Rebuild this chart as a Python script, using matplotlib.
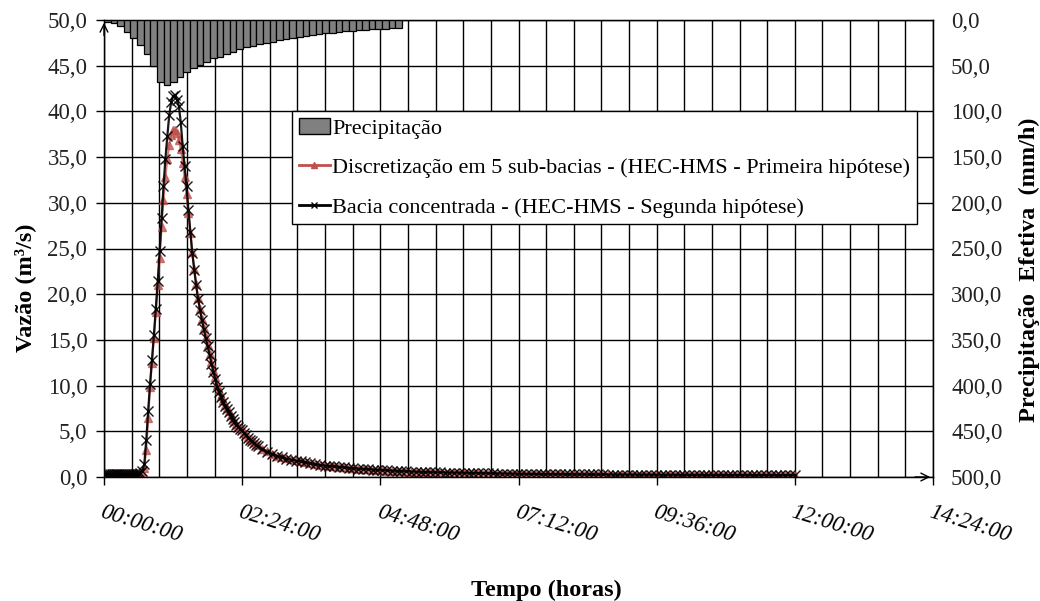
import numpy as np
import matplotlib
matplotlib.use("Agg")
import matplotlib.pyplot as plt
from matplotlib.ticker import MultipleLocator, FuncFormatter
from matplotlib.patches import Patch
from matplotlib.lines import Line2D

plt.rcParams["font.family"] = ["Liberation Serif", "DejaVu Serif"]

# hydrograph sampling: every 2 min up to 158 min, then every 5 min to 720 min (12:00)
t_fine = np.arange(0, 160, 2)
t_tail = np.arange(160, 721, 5)
tempo_min = np.concatenate([t_fine, t_tail])

# Bacia concentrada (HEC-HMS, segunda hipotese) - m3/s
q_concentrada_fine = [0.3] * 19 + [
    0.4, 0.7, 1.4, 4.0, 7.2, 10.2, 12.8, 15.5, 18.4, 21.4,
    24.7, 28.3, 31.8, 34.8, 37.3, 39.6, 41.0, 41.7, 41.8, 41.3,
    40.6, 38.8, 36.2, 34.0, 31.8, 29.2, 26.8, 24.5, 22.7, 21.0,
    19.5, 18.3, 17.2, 16.2, 15.2, 14.3, 13.4, 12.4, 11.5, 10.7,
    9.9, 9.3, 8.8, 8.2, 7.8, 7.4, 7.1, 6.7, 6.4, 6.0,
    5.7, 5.5, 5.3, 5.1, 4.8, 4.6, 4.3, 4.1, 3.9, 3.7, 3.55]
q_concentrada_tail = [
    3.4, 3.05, 2.75, 2.5, 2.3, 2.15, 2.0, 1.9, 1.8, 1.7,
    1.6, 1.5, 1.4, 1.3, 1.25, 1.2, 1.15, 1.1, 1.05, 1.0,
    0.95, 0.92, 0.88, 0.85, 0.82, 0.78, 0.75, 0.72, 0.70, 0.68,
    0.65, 0.62, 0.60, 0.58, 0.56, 0.55, 0.53, 0.52, 0.50, 0.49,
    0.48, 0.47, 0.46, 0.45, 0.44, 0.43, 0.42, 0.41, 0.40, 0.39,
    0.38, 0.37, 0.36, 0.36, 0.35, 0.35, 0.34, 0.34, 0.33, 0.33,
    0.32, 0.32, 0.31, 0.31, 0.30, 0.30, 0.30, 0.29, 0.29, 0.29,
    0.28, 0.28, 0.28, 0.27, 0.27, 0.27, 0.26, 0.26, 0.26, 0.26,
    0.25, 0.25, 0.25, 0.25, 0.24, 0.24, 0.24, 0.24, 0.23, 0.23,
    0.23, 0.23, 0.23, 0.22, 0.22, 0.22, 0.22, 0.22, 0.21, 0.21,
    0.21, 0.21, 0.21, 0.21, 0.20, 0.20, 0.20, 0.20, 0.20, 0.20,
    0.20, 0.20, 0.20]

# Discretizacao em 5 sub-bacias (HEC-HMS, primeira hipotese) - m3/s
q_subbacias_fine = [0.2] * 19 + [
    0.25, 0.5, 1.0, 3.0, 6.5, 9.8, 12.5, 15.2, 18.0, 21.0,
    24.0, 27.3, 30.3, 32.8, 34.8, 36.3, 37.4, 38.0, 38.0, 37.6,
    36.9, 35.9, 34.4, 32.8, 31.0, 28.9, 26.7, 24.6, 22.8, 21.1,
    19.6, 18.4, 17.3, 16.3, 15.3, 14.4, 13.5, 12.6, 11.7, 10.9,
    10.1, 9.5, 8.9, 8.4, 7.9, 7.5, 7.2, 6.8, 6.5, 6.1,
    5.8, 5.6, 5.4, 5.2, 4.9, 4.7, 4.4, 4.2, 4.0, 3.8, 3.6]
q_subbacias_tail = [
    3.45, 3.1, 2.8, 2.55, 2.35, 2.2, 2.05, 1.92, 1.82, 1.72,
    1.62, 1.52, 1.42, 1.32, 1.26, 1.2, 1.15, 1.1, 1.05, 1.0,
    0.95, 0.91, 0.87, 0.84, 0.80, 0.77, 0.74, 0.71, 0.68, 0.66,
    0.63, 0.60, 0.58, 0.56, 0.54, 0.52, 0.50, 0.49, 0.47, 0.46,
    0.45, 0.44, 0.43, 0.42, 0.41, 0.40, 0.39, 0.38, 0.37, 0.36,
    0.35, 0.34, 0.33, 0.33, 0.32, 0.32, 0.31, 0.31, 0.30, 0.30,
    0.29, 0.29, 0.28, 0.28, 0.27, 0.27, 0.27, 0.26, 0.26, 0.26,
    0.25, 0.25, 0.25, 0.24, 0.24, 0.24, 0.23, 0.23, 0.23, 0.23,
    0.22, 0.22, 0.22, 0.22, 0.21, 0.21, 0.21, 0.21, 0.20, 0.20,
    0.20, 0.20, 0.20, 0.19, 0.19, 0.19, 0.19, 0.19, 0.18, 0.18,
    0.18, 0.18, 0.18, 0.18, 0.17, 0.17, 0.17, 0.17, 0.17, 0.17,
    0.17, 0.17, 0.17]

q_concentrada = q_concentrada_fine + q_concentrada_tail
q_subbacias = q_subbacias_fine + q_subbacias_tail

# effective precipitation (mm/h), one bar per interval
precip_dt = 6.9
precip = [2, 3, 7, 13, 20, 27, 37, 50, 68, 71,
          68, 62, 57, 53, 49, 46, 42, 40, 37, 35,
          32, 30, 28.5, 26, 25, 24, 22, 21, 20, 19,
          17.5, 16.5, 15.5, 14.5, 14, 13, 12, 12, 11, 10.5,
          10, 10, 9.5, 9, 9]
precip_t = np.arange(len(precip)) * precip_dt

xticks_min = [0, 144, 288, 432, 576, 720, 864]
xtick_labels = ["00:00:00", "02:24:00", "04:48:00", "07:12:00",
                "09:36:00", "12:00:00", "14:24:00"]

RED = "#c0504d"
TICK_FS = 16.5
LEG_FS = 16
TITLE_FS = 17.5


def comma(v, _pos=None):
    return f"{v:.1f}".replace(".", ",")


fig = plt.figure(figsize=(10.4, 6.01), dpi=100)
ax = fig.add_axes([104 / 1040, 124 / 601, 829 / 1040, 457 / 601])
ax2 = ax.twinx()

# --- hydrographs ---
ax.plot(tempo_min, q_subbacias, color=RED, lw=1.5, marker="^", ms=6,
        mec=RED, mfc=RED, alpha=0.75, zorder=3)
ax.plot(tempo_min, q_concentrada, color="black", lw=1.6, marker="x", ms=7,
        mew=1.0, alpha=0.9, zorder=4)

ax.set_xlim(0, 864)
ax.set_ylim(0, 50)
ax.set_axisbelow(True)
ax.xaxis.set_minor_locator(MultipleLocator(28.8))
ax.set_xticks(xticks_min)
ax.set_xticklabels(xtick_labels)
ax.yaxis.set_major_locator(MultipleLocator(5))
ax.yaxis.set_major_formatter(FuncFormatter(comma))
ax.grid(which="both", axis="x", color="black", lw=1.0)
ax.grid(which="major", axis="y", color="black", lw=1.0)
ax.tick_params(axis="x", which="major", direction="out", length=6, width=1,
               pad=12, labelsize=TICK_FS)
ax.tick_params(axis="x", which="minor", length=0)
ax.tick_params(axis="y", direction="out", length=6, width=1, pad=6,
               labelsize=TICK_FS, labelcolor="#222222")
for lbl in ax.get_xticklabels():
    lbl.set_rotation(-17)
    lbl.set_ha("left")
    lbl.set_va("top")
    lbl.set_rotation_mode("anchor")
    lbl.set_fontstyle("italic")
for sp in ax.spines.values():
    sp.set_color("black")
    sp.set_linewidth(1.0)

# --- precipitation bars on the inverted secondary axis ---
ax2.bar(precip_t, precip, width=precip_dt, align="edge", color="#808080",
        edgecolor="black", lw=0.9)
ax2.set_ylim(500, 0)
ax2.yaxis.set_major_locator(MultipleLocator(50))
ax2.yaxis.set_major_formatter(FuncFormatter(comma))
ax2.tick_params(axis="y", length=0, pad=13, labelsize=TICK_FS, labelcolor="#222222")

# axis arrows
ax.annotate("", xy=(0, 1.0), xytext=(0, 0.96), xycoords="axes fraction",
            arrowprops=dict(arrowstyle="->", color="black", lw=1.0,
                            mutation_scale=14))
ax.annotate("", xy=(1.0, 0), xytext=(0.975, 0), xycoords="axes fraction",
            arrowprops=dict(arrowstyle="->", color="black", lw=1.0,
                            mutation_scale=14))

# --- legend ---
handles = [
    Patch(facecolor="#808080", edgecolor="black", label="Precipitação"),
    Line2D([], [], color=RED, lw=2, marker="^", ms=4,
           label="Discretização em 5 sub-bacias - (HEC-HMS - Primeira hipótese)"),
    Line2D([], [], color="black", lw=2, marker="x", ms=4,
           label="Bacia concentrada - (HEC-HMS - Segunda hipótese)"),
]
leg = ax2.legend(handles=handles, loc="upper left", bbox_to_anchor=(0.227, 0.80),
                 fontsize=LEG_FS, frameon=True, fancybox=False, framealpha=1,
                 edgecolor="black", borderpad=0.3, handlelength=1.4,
                 handletextpad=0.1, labelspacing=0.85, borderaxespad=0)
leg.get_frame().set_linewidth(1.0)

# --- axis titles ---
fig.text(25 / 1040, 1 - 288 / 601, "Vazão (m³/s)", rotation=90, ha="center",
         va="center", fontsize=TITLE_FS, fontweight="bold")
fig.text(1029 / 1040, 1 - 270 / 601, "Precipitação  Efetiva  (mm/h)", rotation=90,
         ha="center", va="center", fontsize=TITLE_FS, fontweight="bold")
fig.text(546 / 1040, 1 - 590 / 601, "Tempo (horas)", ha="center", va="center",
         fontsize=TITLE_FS, fontweight="bold")

fig.savefig("out.png", dpi=100)
